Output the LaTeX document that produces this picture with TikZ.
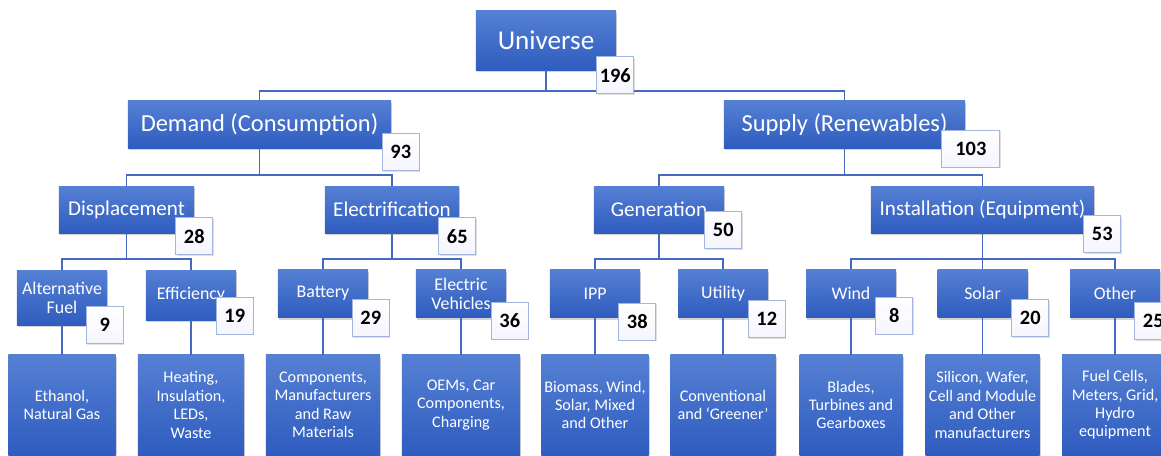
\documentclass[tikz,border=0pt]{standalone}
\usepackage{fontspec}
\setmainfont{Carlito}
\usepackage{xcolor}
\usetikzlibrary{positioning,shadows}
\definecolor{boxtop}{HTML}{5580D4}
\definecolor{boxbot}{HTML}{2F5CBF}
\definecolor{wire}{HTML}{4668BE}
\definecolor{tallyline}{HTML}{A3B6DE}

\begin{document}
\begin{tikzpicture}[
    x=0.025cm, y=-0.025cm,
    every node/.style={align=center, inner sep=2pt},
    blk/.style={rectangle, top color=boxtop, bottom color=boxbot, text=white,
      drop shadow={shadow xshift=1pt, shadow yshift=-1.5pt, opacity=.35}},
    lvlzero/.style={blk, minimum width=3.5cm, minimum height=1.475cm, font=\fontsize{19.3}{23}\selectfont},
    lvlone/.style={blk, minimum height=1.175cm, font=\fontsize{17.4}{21}\selectfont},
    lvltwo/.style={blk, minimum height=1.175cm, font=\fontsize{15}{18}\selectfont},
    lvlthree/.style={blk, minimum width=2.25cm, minimum height=1.2cm, font=\fontsize{12.7}{13.5}\selectfont},
    leaf/.style={blk, minimum height=2.5cm, font=\fontsize{11.5}{13.1}\selectfont},
    tally/.style={rectangle, draw=tallyline, line width=.6pt, top color=white, bottom color=blue!4,
      minimum width=.925cm, minimum height=.925cm, font=\fontsize{14.5}{17}\selectfont\bfseries,
      drop shadow={shadow xshift=.5pt, shadow yshift=-.8pt, opacity=.25}},
    link/.style={draw=wire, line width=1.3pt}
  ]
\useasboundingbox (0,0) rectangle (1161,455);
\clip (0,0) rectangle (1161,455);

% Root node
\node[lvlzero] (univ) at (546,40.5) {Universe};

% Demand / Supply
\node[lvlone, minimum width=6.575cm] (dem) at (259.5,124.5) {Demand (Consumption)};
\node[lvlone, minimum width=6.025cm] (sup) at (844.5,124.5) {Supply (Renewables)};

% Second level
\node[lvltwo, minimum width=3.375cm] (disp) at (126.5,209.5) {Displacement};
\node[lvltwo, minimum width=3.35cm] (elec) at (392,209.5) {Electrification};
\node[lvltwo, minimum width=3.25cm] (gen) at (659,209.5) {Generation};
\node[lvltwo, minimum width=5.575cm] (inst) at (982.5,209.5) {Installation (Equipment)};

% Third level
\node[lvlthree, minimum height=1.375cm] (altf) at (62,297.5) {Alternative\\Fuel};
\node[lvlthree, minimum height=1.25cm] (eff) at (191,295) {Efficiency};
\node[lvlthree] (batt) at (323,293.5) {Battery};
\node[lvlthree] (ev) at (461,293.5) {Electric\\Vehicles};
\node[lvlthree] (ipp) at (595,293.5) {IPP};
\node[lvlthree] (util) at (723,293.5) {Utility};
\node[lvlthree] (wind) at (851,293.5) {Wind};
\node[lvlthree] (solar) at (982.5,293.5) {Solar};
\node[lvlthree] (oth) at (1115,293.5) {Other};

% Leaves
\node[leaf, minimum width=2.675cm] (altl) at (62,405) {Ethanol,\\Natural Gas};
\node[leaf, minimum width=2.65cm] (effl) at (191,405) {Heating,\\Insulation,\\LEDs,\\Waste};
\node[leaf, minimum width=2.85cm] (battl) at (323,405) {Components,\\Manufacturers\\and Raw\\Materials};
\node[leaf, minimum width=2.95cm] (evl) at (461,405) {OEMs, Car\\Components,\\Charging};
\node[leaf, minimum width=2.675cm] (ippl) at (595,405) {Biomass, Wind,\\Solar, Mixed\\and Other};
\node[leaf, minimum width=2.625cm] (utill) at (723,405) {Conventional\\and ‘Greener’};
\node[leaf, minimum width=2.575cm] (windl) at (851,405) {Blades,\\Turbines and\\Gearboxes};
\node[leaf, minimum width=2.85cm] (solarl) at (982.5,405) {Silicon, Wafer,\\Cell and Module\\and Other\\manufacturers};
\node[leaf, minimum width=2.65cm] (othl) at (1115,405) {Fuel Cells,\\Meters, Grid,\\Hydro\\equipment};

% Connectors
\draw[link] (univ.south) -- ++(0,21) -| (dem.north);
\draw[link] (univ.south) ++(0,21) -| (sup.north);
\draw[link] (dem.south) -- ++(0,27) -| (disp.north);
\draw[link] (dem.south) ++(0,27) -| (elec.north);
\draw[link] (sup.south) -- ++(0,27) -| (gen.north);
\draw[link] (sup.south) ++(0,27) -| (inst.north);
\draw[link] (disp.south) -- ++(0,26) -| (altf.north);
\draw[link] (disp.south) ++(0,26) -| (eff.north);
\draw[link] (elec.south) -- ++(0,26) -| (batt.north);
\draw[link] (elec.south) ++(0,26) -| (ev.north);
\draw[link] (gen.south) -- ++(0,26) -| (ipp.north);
\draw[link] (gen.south) ++(0,26) -| (util.north);
\draw[link] (inst.south) -- ++(0,26) -| (wind.north);
\draw[link] (inst.south) ++(0,26) -| (solar.north);
\draw[link] (inst.south) ++(0,26) -| (oth.north);
\draw[link] (altf) -- (altl);
\draw[link] (eff) -- (effl);
\draw[link] (batt) -- (battl);
\draw[link] (ev) -- (evl);
\draw[link] (ipp) -- (ippl);
\draw[link] (util) -- (utill);
\draw[link] (wind) -- (windl);
\draw[link] (solar) -- (solarl);
\draw[link] (oth) -- (othl);

% Counts
\node[tally] (n196) at ([shift={(-1,5)}]univ.south east) {196};
\node[tally] (n93) at ([shift={(9.5,4)}]dem.south east) {93};
\node[tally, minimum width=1.45cm] (n103) at ([shift={(5.5,0.5)}]sup.south east) {103};
\node[tally] (n28) at ([shift={(0,3)}]disp.south east) {28};
\node[tally] (n65) at ([shift={(-2,3)}]elec.south east) {65};
\node[tally] (n50) at ([shift={(-1,-3)}]gen.south east) {50};
\node[tally] (n53) at ([shift={(8,1)}]inst.south east) {53};
\node[tally] (n9) at ([shift={(-2.5,0)}]altf.south east) {9};
\node[tally] (n19) at ([shift={(-1.5,-4.5)}]eff.south east) {19};
\node[tally] (n29) at ([shift={(2.5,0.5)}]batt.south east) {29};
\node[tally] (n36) at ([shift={(3.5,3)}]ev.south east) {36};
\node[tally] (n38) at ([shift={(-3,4)}]ipp.south east) {38};
\node[tally] (n12) at ([shift={(-1.5,1.5)}]util.south east) {12};
\node[tally] (n8) at ([shift={(-2,-2)}]wind.south east) {8};
\node[tally] (n20) at ([shift={(2.5,0.5)}]solar.south east) {20};
\node[tally] (n25) at ([shift={(-7,3.5)}]oth.south east) {25};

\end{tikzpicture}
\end{document}
